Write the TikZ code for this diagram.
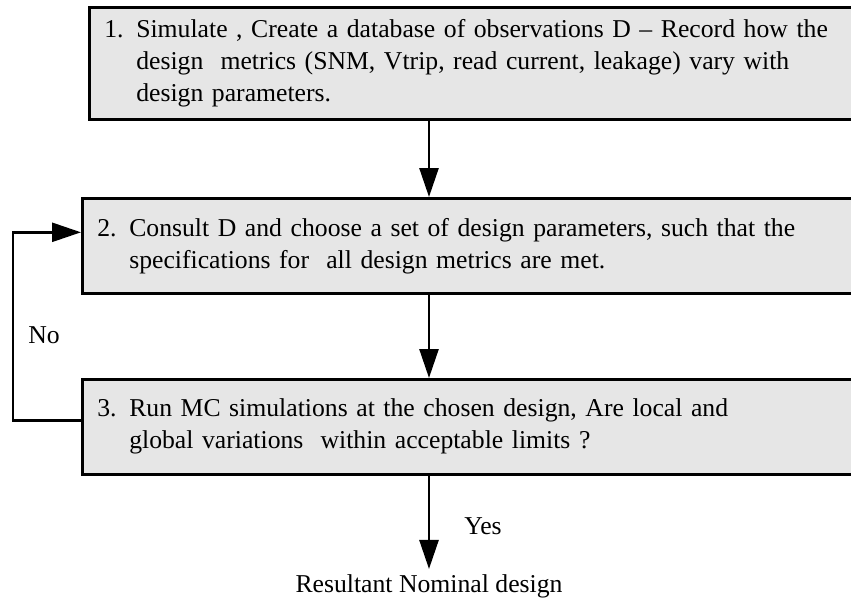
\documentclass[tikz,border=0pt]{standalone}
\usepackage{fontspec}
\setmainfont{Liberation Serif}
\usetikzlibrary{arrows.meta}
\usetikzlibrary{positioning}
\definecolor{BoxGray}{HTML}{E6E6E6}
\tikzset{
  stepbox/.style={draw, line width=2.6pt, fill=BoxGray, rectangle,
    anchor=north west, minimum width=800pt, text width=770pt,
    align=left, inner xsep=13pt, inner ysep=0pt,
    font=\fontsize{25.7}{32}\selectfont},
  flow/.style={line width=2.6pt, -{Triangle[length=29pt,width=19pt]}},
  lbl/.style={font=\fontsize{25.7}{32}\selectfont, inner sep=0pt}
}
\newcommand{\steplabel}[1]{\makebox[32pt][l]{#1}}
\newcommand{\stepindent}{\hspace*{32pt}}

\begin{document}
\begin{tikzpicture}[x=1pt, y=-1pt]
  \useasboundingbox (0,0) rectangle (851,602);
  \clip (0,0) rectangle (851,602);
  \coordinate (Column) at (429,0);

  \node[stepbox, minimum height=112pt, inner xsep=14pt] (StepOne) at (88,6)
    {\steplabel{1.}Simulate , Create a database of observations D -- Record how the\\
     \stepindent design\ \ metrics (SNM, Vtrip, read current, leakage) vary with\\
     \stepindent design parameters.};
  \node[stepbox, minimum height=95pt] (StepTwo) at (81,197)
    {\steplabel{2.}Consult D and choose a set of design parameters, such that the\\
     \stepindent specifications for\ \ all design metrics are met.};
  \node[stepbox, minimum height=95pt] (StepThree) at (81,378)
    {\steplabel{3.}Run MC simulations at the chosen design, Are local and\\
     \stepindent global variations\ \ within acceptable limits ?};
  \node[lbl, anchor=base, inner ysep=5pt] (Result) at (429,592)
    {Resultant Nominal design};
  \node[lbl] (NoLabel) at (44,335) {No};

  \draw[flow] (StepOne.south -| Column) -- (StepTwo.north -| Column);
  \draw[flow] (StepTwo.south -| Column) -- (StepThree.north -| Column);
  \draw[flow] (StepThree.south -| Column) -- (Result.north)
    node[lbl, pos=0.54, anchor=west, xshift=34pt] (YesLabel) {Yes};
  \draw[flow] ([yshift=6.5pt]StepThree.west) -- ++(-68,0)
    |- ([yshift=13.5pt]StepTwo.west);
\end{tikzpicture}
\end{document}
